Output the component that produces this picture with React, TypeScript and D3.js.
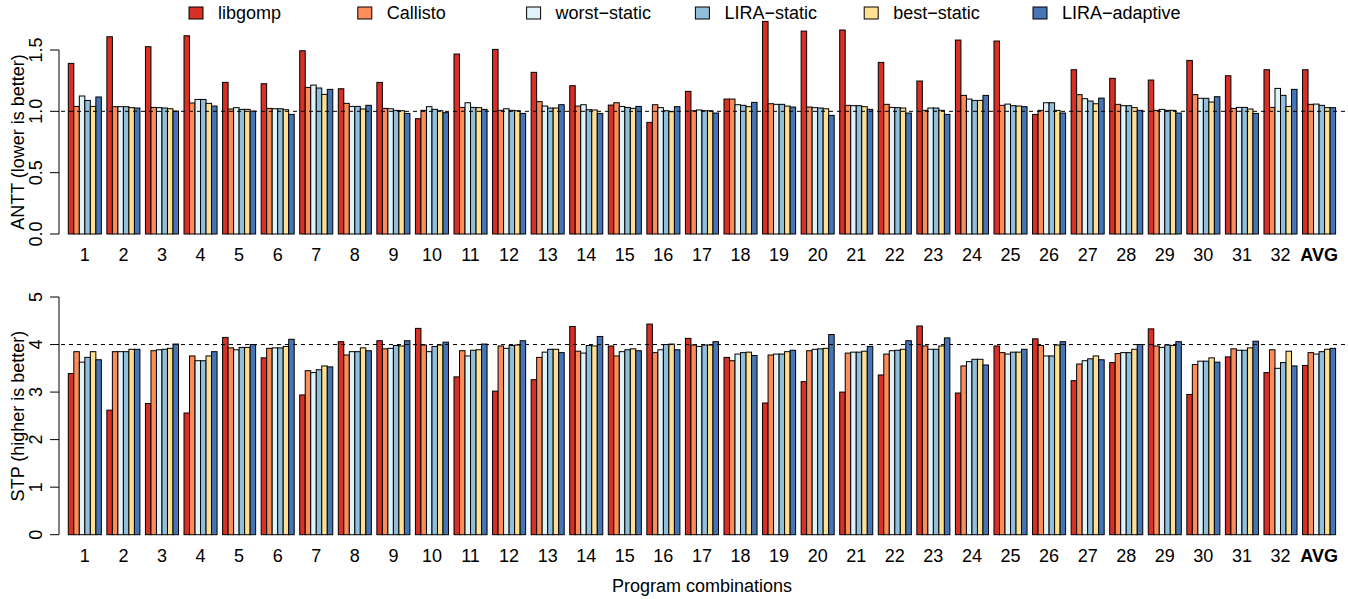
import React from "react";
import * as d3 from "d3";

const categories = ["1","2","3","4","5","6","7","8","9","10","11","12","13","14","15","16","17","18","19","20","21","22","23","24","25","26","27","28","29","30","31","32","AVG"];
const seriesNames = ["libgomp", "Callisto", "worst\u2212static", "LIRA\u2212static", "best\u2212static", "LIRA\u2212adaptive"];
const seriesColors = ["#D73027", "#FC8D59", "#E0F3F8", "#91BFDB", "#FEE090", "#4575B4"];

// ANTT (lower is better)
const anttLibgomp = [1.391,1.608,1.527,1.616,1.236,1.225,1.494,1.184,1.236,0.940,1.467,1.505,1.318,1.209,1.051,0.910,1.163,1.100,1.733,1.654,1.663,1.399,1.247,1.581,1.573,0.975,1.339,1.269,1.255,1.415,1.290,1.339,1.339];
const anttCallisto = [1.040,1.038,1.032,1.068,1.019,1.024,1.195,1.065,1.024,1.008,1.032,1.008,1.079,1.043,1.070,1.054,1.005,1.100,1.062,1.035,1.049,1.057,1.008,1.130,1.049,1.008,1.136,1.057,1.008,1.136,1.024,1.032,1.057];
const anttWorstStatic = [1.125,1.038,1.030,1.097,1.030,1.021,1.214,1.040,1.021,1.038,1.070,1.021,1.043,1.054,1.040,1.030,1.011,1.054,1.057,1.030,1.046,1.032,1.027,1.100,1.059,1.070,1.103,1.046,1.016,1.106,1.032,1.187,1.059];
const anttLiraStatic = [1.089,1.038,1.027,1.097,1.016,1.021,1.190,1.040,1.008,1.016,1.032,1.008,1.027,1.013,1.032,1.005,1.005,1.049,1.057,1.027,1.046,1.030,1.027,1.089,1.046,1.070,1.084,1.046,1.008,1.106,1.032,1.130,1.049];
const anttBestStatic = [1.040,1.030,1.021,1.065,1.016,1.013,1.138,1.019,1.005,1.005,1.030,1.005,1.027,1.011,1.024,0.997,1.005,1.038,1.043,1.021,1.038,1.027,1.008,1.089,1.043,1.008,1.062,1.030,1.008,1.076,1.019,1.040,1.030];
const anttLiraAdaptive = [1.117,1.027,1.002,1.043,1.002,0.975,1.179,1.049,0.983,0.989,1.016,0.983,1.054,0.983,1.040,1.038,0.986,1.073,1.035,0.967,1.016,0.986,0.975,1.130,1.038,0.986,1.108,1.008,0.986,1.119,0.983,1.179,1.030];

// STP (higher is better)
const stpLibgomp = [3.39,2.62,2.76,2.56,4.15,3.72,2.94,4.06,4.08,4.34,3.32,3.02,3.26,4.38,3.97,4.43,4.13,3.73,2.77,3.22,3.00,3.36,4.39,2.98,3.97,4.12,3.24,3.62,4.33,2.95,3.74,3.41,3.56];
const stpCallisto = [3.85,3.85,3.87,3.76,3.93,3.92,3.45,3.78,3.91,3.99,3.87,3.97,3.73,3.86,3.76,3.83,3.99,3.66,3.78,3.87,3.82,3.80,3.97,3.55,3.83,3.98,3.59,3.81,3.97,3.58,3.91,3.89,3.83];
const stpWorstStatic = [3.63,3.85,3.89,3.66,3.89,3.93,3.41,3.85,3.92,3.85,3.76,3.92,3.84,3.82,3.85,3.89,3.96,3.80,3.80,3.90,3.84,3.87,3.90,3.64,3.80,3.76,3.66,3.83,3.94,3.65,3.88,3.50,3.80];
const stpLiraStatic = [3.73,3.85,3.90,3.66,3.94,3.93,3.47,3.85,3.98,3.96,3.88,3.98,3.90,3.98,3.89,4.00,3.99,3.83,3.80,3.91,3.84,3.88,3.90,3.69,3.84,3.76,3.70,3.83,3.99,3.65,3.88,3.62,3.85];
const stpBestStatic = [3.85,3.90,3.92,3.76,3.94,3.96,3.55,3.93,3.97,3.99,3.89,3.99,3.90,3.97,3.91,4.01,3.99,3.84,3.85,3.92,3.86,3.90,3.97,3.69,3.84,3.99,3.76,3.90,3.98,3.72,3.93,3.86,3.90];
const stpLiraAdaptive = [3.68,3.90,4.01,3.85,4.00,4.11,3.53,3.87,4.08,4.05,4.01,4.08,3.83,4.17,3.87,3.89,4.06,3.77,3.88,4.21,3.96,4.08,4.14,3.57,3.90,4.06,3.68,4.00,4.06,3.63,4.07,3.55,3.92];

const anttTicks = [0, 0.5, 1.0, 1.5];
const stpTicks = [0, 1, 2, 3, 4, 5];

const anttSeries = [anttLibgomp, anttCallisto, anttWorstStatic, anttLiraStatic, anttBestStatic, anttLiraAdaptive];
const stpSeries = [stpLibgomp, stpCallisto, stpWorstStatic, stpLiraStatic, stpBestStatic, stpLiraAdaptive];

const FONT = "'Liberation Sans', Arial, Helvetica, sans-serif";
const W = 1348;
const H = 599;

const nSeries = seriesNames.length;
const groupUnits = nSeries + 1;
const firstUnit = 1;
const lastUnit = firstUnit + (categories.length - 1) * groupUnits + nSeries;

const xUnit = d3.scaleLinear().domain([firstUnit, lastUnit]).range([68.3, 1335.6]);
const axisX = 59;
const plotRight = 1345;

type PanelProps = {
  data: number[][];
  y: d3.ScaleLinear<number, number>;
  ticks: number[];
  tickFmt: (v: number) => string;
  refValue: number;
  title: string;
  titleY: number;
  labelY: number;
};

function Panel({ data, y, ticks, tickFmt, refValue, title, titleY, labelY }: PanelProps) {
  const bw = xUnit(2) - xUnit(1);
  const y0 = y(0);
  return (
    <g>
      {categories.map((cat, g) => (
        <g key={cat}>
          {data.map((series, s) => {
            const v = series[g];
            const x = xUnit(firstUnit + g * groupUnits + s);
            const top = y(v);
            return (
              <rect
                key={s}
                x={x}
                y={top}
                width={bw}
                height={y0 - top}
                fill={seriesColors[s]}
                stroke="#000"
                strokeWidth={1}
              />
            );
          })}
          <text
            x={xUnit(firstUnit + g * groupUnits + nSeries / 2)}
            y={labelY}
            textAnchor="middle"
            fontSize={18}
            fontWeight={cat === "AVG" ? "bold" : "normal"}
            fontFamily={FONT}
            fill="#000"
          >
            {cat}
          </text>
        </g>
      ))}
      <line
        x1={axisX + 2}
        x2={plotRight}
        y1={y(refValue)}
        y2={y(refValue)}
        stroke="#000"
        strokeWidth={1}
        strokeDasharray="4,4"
      />
      <line x1={axisX} x2={axisX} y1={y(ticks[0])} y2={y(ticks[ticks.length - 1])} stroke="#000" strokeWidth={1} />
      {ticks.map((t) => (
        <g key={t}>
          <line x1={axisX - 9} x2={axisX} y1={y(t)} y2={y(t)} stroke="#000" strokeWidth={1} />
          <text
            transform={`translate(42,${y(t)}) rotate(-90)`}
            textAnchor="middle"
            fontSize={18}
            fontFamily={FONT}
            fill="#000"
          >
            {tickFmt(t)}
          </text>
        </g>
      ))}
      <text
        transform={`translate(24,${titleY}) rotate(-90)`}
        textAnchor="middle"
        fontSize={18}
        fontFamily={FONT}
        fill="#000"
      >
        {title}
      </text>
    </g>
  );
}

export default function App() {
  const yTop = d3.scaleLinear().domain([0, 1.5]).range([234, 50]);
  const yBot = d3.scaleLinear().domain([0, 5]).range([534.7, 297]);
  const legendX = d3.scaleLinear().domain([0, nSeries - 1]).range([189, 1033]);

  return (
    <svg
      width={W}
      height={H}
      style={{ position: "absolute", left: 0, top: 0, background: "#fff" }}
    >
      <rect x={0} y={0} width={W} height={H} fill="#fff" />
      {seriesNames.map((name, i) => (
        <g key={name}>
          <rect x={legendX(i)} y={7} width={14} height={12} fill={seriesColors[i]} stroke="#000" strokeWidth={1} />
          <text x={legendX(i) + 29} y={19} fontSize={18} fontFamily={FONT} fill="#000">
            {name}
          </text>
        </g>
      ))}
      <Panel
        data={anttSeries}
        y={yTop}
        ticks={anttTicks}
        tickFmt={(v) => v.toFixed(1)}
        refValue={1}
        title="ANTT (lower is better)"
        titleY={142}
        labelY={261}
      />
      <Panel
        data={stpSeries}
        y={yBot}
        ticks={stpTicks}
        tickFmt={(v) => String(v)}
        refValue={4}
        title="STP (higher is better)"
        titleY={416}
        labelY={562}
      />
      <text x={702} y={592} textAnchor="middle" fontSize={18} fontFamily={FONT} fill="#000">
        Program combinations
      </text>
    </svg>
  );
}
